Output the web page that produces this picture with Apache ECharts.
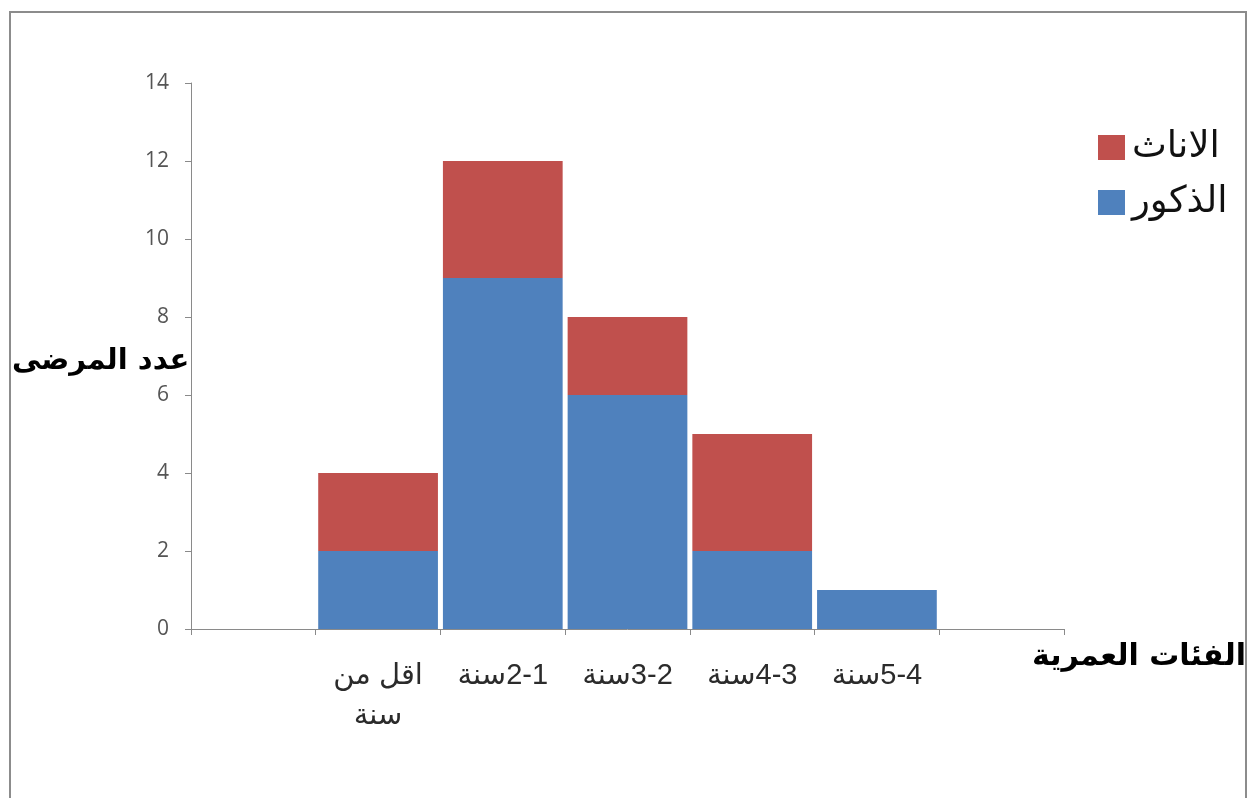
<!DOCTYPE html>
<html>
<head>
<meta charset="utf-8">
<script src="https://cdn.jsdelivr.net/npm/echarts@6/dist/echarts.min.js"></script>
<style>
  html, body { margin: 0; padding: 0; background: #ffffff; }
  #chart { width: 1249px; height: 798px; }
</style>
</head>
<body>
<div id="chart" dir="rtl"></div>
<script>
// Age groups (first and last slots are empty padding categories)
const categories = ['', 'اقل من\nسنة', '2-1سنة', '3-2سنة', '4-3سنة', '5-4سنة', ''];
// Patient counts per age group
const males   = [null, 2, 9, 6, 2, 1, null];
const females = [null, 2, 3, 2, 3, 0, null];
const seriesNames = ['الذكور', 'الاناث'];
const yTicks = { min: 0, max: 14, interval: 2 };

const axisGray = '#8a8a8a';
const arabicFont = '"DejaVu Sans", "Noto Sans", sans-serif';

const chart = echarts.init(document.getElementById('chart'), null, { renderer: 'canvas' });

chart.setOption({
  animation: false,
  backgroundColor: '#ffffff',
  grid: { left: 191, right: 185, top: 83, bottom: 169, containLabel: false },
  legend: {
    data: [seriesNames[1], seriesNames[0]],
    orient: 'vertical',
    left: 1093,
    top: 119,
    itemWidth: 27,
    itemHeight: 25,
    itemGap: 8,
    itemStyle: { borderWidth: 0 },
    icon: 'rect',
    textStyle: { fontFamily: arabicFont, fontSize: 37, lineHeight: 47, color: '#111111', padding: [0, 0, 0, 2] }
  },
  xAxis: {
    type: 'category',
    data: categories,
    boundaryGap: true,
    axisLine: { lineStyle: { color: axisGray, width: 1 } },
    axisTick: { show: true, length: 6, lineStyle: { color: axisGray } },
    axisLabel: {
      interval: 0,
      margin: 27,
      fontSize: 29,
      lineHeight: 40,
      color: '#2b2b2b',
      fontFamily: '"Liberation Sans", "DejaVu Sans", sans-serif'
    },
    splitLine: { show: false }
  },
  yAxis: {
    type: 'value',
    min: yTicks.min,
    max: yTicks.max,
    interval: yTicks.interval,
    axisLine: { show: true, lineStyle: { color: axisGray, width: 1 } },
    axisTick: { show: true, length: 6, lineStyle: { color: axisGray } },
    axisLabel: {
      margin: 22,
      fontSize: 21,
      color: '#555555',
      fontFamily: '"Open Sans", "Liberation Sans", sans-serif'
    },
    splitLine: { show: false }
  },
  graphic: [
    {
      type: 'rect',
      shape: { x: 10, y: 12, width: 1236, height: 800 },
      style: { fill: 'none', stroke: '#8c8c8c', lineWidth: 2 },
      silent: true
    },
    {
      type: 'text',
      left: 12,
      top: 347,
      style: {
        text: 'عدد المرضى',
        font: 'bold 29px ' + arabicFont,
        fill: '#000000'
      }
    },
    {
      type: 'text',
      left: 1032,
      top: 642,
      style: {
        text: 'الفئات العمرية',
        font: 'bold 30px ' + arabicFont,
        fill: '#000000'
      }
    }
  ],
  series: [
    {
      name: seriesNames[0],
      type: 'bar',
      stack: 'total',
      data: males,
      barCategoryGap: '4%',
      itemStyle: { color: '#4F81BD' }
    },
    {
      name: seriesNames[1],
      type: 'bar',
      stack: 'total',
      data: females,
      barCategoryGap: '4%',
      itemStyle: { color: '#C0504D' }
    }
  ]
});
</script>
</body>
</html>
